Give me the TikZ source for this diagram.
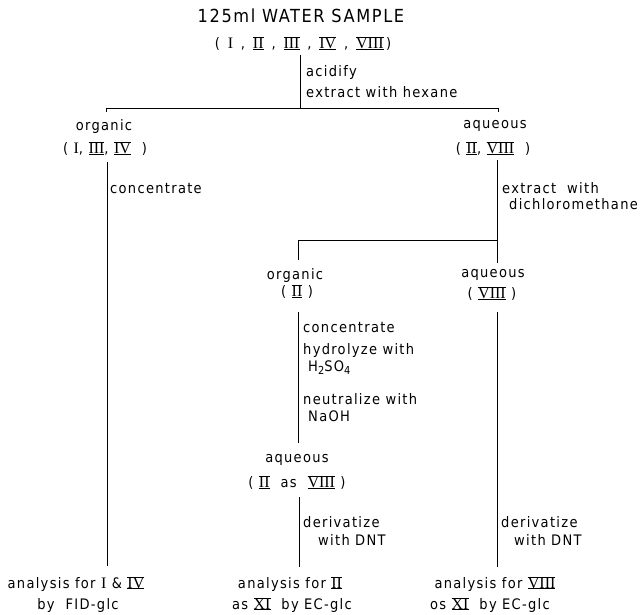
\documentclass[tikz,border=0pt]{standalone}
\usepackage{fontspec}
\setmainfont{DejaVu Sans Condensed}[LetterSpace=9]
\newfontfamily\ttlfont{DejaVu Sans Condensed}[LetterSpace=9]
\newfontfamily\rnfont{Liberation Serif}
\newcommand\rnum[1]{\leavevmode\setbox0\hbox{\rnfont\fontsize{16}{18}\selectfont #1}%
  \rlap{\rule[-0.9pt]{\wd0}{1pt}}\rlap{\rule[\dimexpr\ht0+0.1pt\relax]{\wd0}{1pt}}\copy0\relax}
\newcommand\rone{{\rnfont\fontsize{16}{18}\selectfont I}}
\begin{document}
\begin{tikzpicture}[x=1pt,y=-1pt,
  lbl/.style={inner sep=0pt,font=\fontsize{14.5}{16}\selectfont},
  ttl/.style={inner sep=0pt,font=\ttlfont\fontsize{18}{20}\selectfont},
  wire/.style={line width=0.8pt}]
\useasboundingbox (0,0) rectangle (644,614);
% title
\node[ttl] (title) at (301,16) {125ml WATER SAMPLE};
\node[lbl] (tnum) at (303,44) {(\ \,\rone\ \,,\ \,\rnum{II}\ \,,\ \,\rnum{III}\ \,,\ \,\rnum{IV}\ \,,\ \,\rnum{VIII}\,)};
\coordinate (t1) at (300,55);
\coordinate (s1) at (300,108);
\coordinate (cL) at (106,108);
\coordinate (cR) at (498,108);
\draw[wire] (t1) -- (s1);
\draw[wire] (cL) ++(0,4) -- (cL) -- (cR) -- ++(0,4);
\node[lbl,anchor=west] (acid) at (306,72) {acidify};
\node[lbl,anchor=west] (exhex) at (306,92) {extract with hexane};
% left branch
\node[lbl] (orgA) at (104,126) {organic};
\node[lbl] (orgAn) at (105,149) {(\ \rone, \rnum{III}, \rnum{IV}\ \ )};
\coordinate (l1) at (107,162);
\coordinate (l2) at (107,566);
\draw[wire] (l1) -- (l2);
\node[lbl,anchor=west] (concL) at (110,189) {concentrate};
% right branch
\node[lbl] (aqA) at (495,126) {aqueous};
\node[lbl] (aqAn) at (493,149) {(\ \rnum{II}, \rnum{VIII}\ \ )};
\coordinate (r1) at (497,160);
\coordinate (s2) at (497,240);
\coordinate (r2) at (497,263);
\coordinate (m0) at (298,240);
\coordinate (m1) at (298,260);
\draw[wire] (r1) -- (r2);
\draw[wire] (m1) -- (m0) -- (s2);
\node[lbl,anchor=west] (exd1) at (502,188) {extract\ \ with};
\node[lbl,anchor=west] (exd2) at (509,204) {dichloromethane};
% middle organic
\node[lbl] (orgB) at (295,275) {organic};
\node[lbl] (orgBn) at (297,292) {(\ \rnum{II}\ )};
\coordinate (m2) at (298,312);
\coordinate (m3) at (298,443);
\draw[wire] (m2) -- (m3);
\node[lbl,anchor=west] (concM) at (303,328) {concentrate};
\node[lbl,anchor=west] (hyd) at (303,350) {hydrolyze with};
\node[lbl,anchor=west] (h2so4) at (308,368) {H\raisebox{-3pt}{\fontsize{11}{12}\selectfont 2}SO\raisebox{-3pt}{\fontsize{11}{12}\selectfont 4}};
\node[lbl,anchor=west] (neu) at (303,399) {neutralize with};
\node[lbl,anchor=west] (naoh) at (308,416) {NaOH};
\node[lbl] (aqC) at (297,460) {aqueous};
\node[lbl] (aqCn) at (297,483) {(\ \rnum{II}\ \ as\ \ \rnum{VIII}\ )};
\coordinate (m4) at (299,497);
\coordinate (m5) at (299,567);
\draw[wire] (m4) -- (m5);
\node[lbl,anchor=west] (derM) at (303,522) {derivatize};
\node[lbl,anchor=west] (dntM) at (318,540) {with DNT};
% right aqueous
\node[lbl] (aqB) at (493,275) {aqueous};
\node[lbl] (aqBn) at (492,294) {(\ \rnum{VIII}\ )};
\coordinate (r3) at (497,312);
\coordinate (r4) at (497,567);
\draw[wire] (r3) -- (r4);
\node[lbl,anchor=west] (derR) at (501,522) {derivatize};
\node[lbl,anchor=west] (dntR) at (514,540) {with DNT};
% bottom
\node[lbl] (anL1) at (76,584) {analysis for \rone\ \& \rnum{IV}};
\node[lbl] (anL2) at (78,605) {by\ \ FID-glc};
\node[lbl] (anM1) at (290,584) {analysis for \rnum{II}};
\node[lbl] (anM2) at (292,605) {as \rnum{XI}\ \ by EC-glc};
\node[lbl] (anR1) at (495,584) {analysis for \rnum{VIII}};
\node[lbl] (anR2) at (490,605) {os \rnum{XI}\ \ by EC-glc};
\end{tikzpicture}
\end{document}
